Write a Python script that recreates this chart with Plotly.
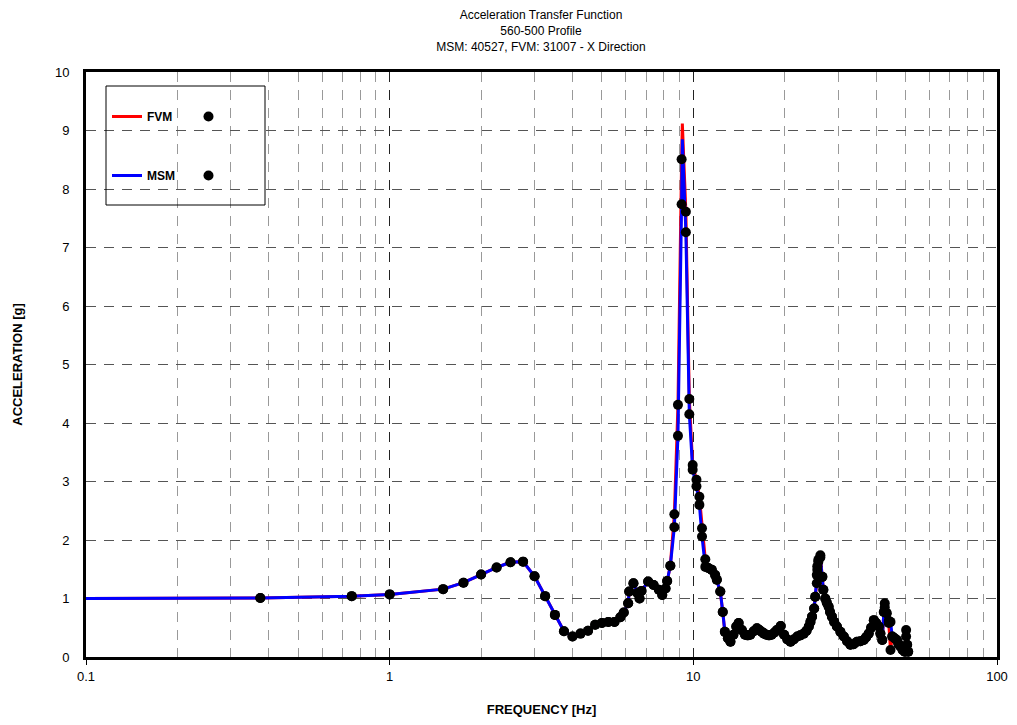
import plotly.graph_objects as go

# ---- data ----
freq = [0.1, 0.375, 0.75, 1.0, 1.5, 1.75, 2.0, 2.25, 2.5, 2.75, 3.0, 3.25, 3.5, 3.75, 4.0,
        4.25, 4.5, 4.75, 5.0, 5.25, 5.5, 5.75, 5.9, 6.1, 6.15, 6.35, 6.55, 6.65, 6.75, 7.1,
        7.4, 7.7, 7.9, 8.1, 8.2, 8.4, 8.66, 8.9, 9.15, 9.2, 9.45, 9.7, 9.95, 10.24, 10.47,
        10.68, 10.95, 11.2, 11.5, 11.8, 11.95, 12.27, 12.5, 12.7, 13.0, 13.25, 13.55, 13.85,
        14.1, 14.45, 14.8, 15.1, 15.4, 15.8, 16.2, 16.5, 16.8, 17.1, 17.4, 17.75, 18.1, 18.5,
        18.85, 19.4, 19.9, 20.4, 20.9, 21.4, 22.0, 22.5, 23.1, 23.6, 24.0, 24.3, 24.6, 25.0,
        25.2, 25.5, 25.6, 25.8, 26.2, 26.6, 26.8, 27.2, 27.5, 27.9, 28.2, 28.6, 29.1, 29.7,
        30.5, 31.3, 32.1, 32.9, 33.7, 34.6, 35.5, 36.4, 37.1, 37.8, 38.5, 39.3, 40.0, 40.8,
        41.3, 41.9, 42.4, 42.7, 43.3, 44.0, 44.6, 45.2, 46.0, 46.8, 47.4, 48.1, 48.9, 49.7,
        50.2, 50.6, 51.0]

fvm = [1.00, 1.01, 1.04, 1.07, 1.16, 1.27, 1.41, 1.53, 1.62, 1.63, 1.38, 1.04, 0.72, 0.44, 0.35,
       0.40, 0.45, 0.55, 0.58, 0.60, 0.60, 0.68, 0.76, 0.92, 1.12, 1.26, 1.09, 1.00, 1.13, 1.29,
       1.23, 1.15, 1.06, 1.17, 1.30, 1.56, 2.44, 4.31, 8.51, 9.12, 7.61, 4.41, 3.28, 3.03, 2.74,
       2.20, 1.67, 1.52, 1.49, 1.40, 1.32, 1.12, 0.77, 0.43, 0.32, 0.26, 0.38, 0.52,
       0.58, 0.46, 0.38, 0.37, 0.38, 0.44, 0.49, 0.46, 0.43, 0.40, 0.38, 0.37, 0.38, 0.42,
       0.46, 0.53, 0.38, 0.30, 0.26, 0.30, 0.35, 0.37, 0.40, 0.45, 0.52, 0.60, 0.69, 0.83,
       1.03, 1.26, 1.49, 1.63, 1.74, 1.37, 1.15, 1.00, 0.93, 0.86, 0.77, 0.69, 0.60, 0.52,
       0.43, 0.35, 0.27, 0.21, 0.22, 0.26, 0.27, 0.29, 0.34, 0.40, 0.50, 0.63, 0.58, 0.52,
       0.40, 0.29, 0.77, 0.92, 0.75, 0.58, 0.12, 0.35, 0.32, 0.29, 0.22, 0.18, 0.12, 0.09,
       0.46, 0.21, 0.09]

msm = [1.00, 1.01, 1.04, 1.07, 1.16, 1.27, 1.41, 1.53, 1.62, 1.63, 1.38, 1.04, 0.72, 0.44, 0.35,
       0.40, 0.45, 0.55, 0.58, 0.60, 0.60, 0.68, 0.76, 0.92, 1.12, 1.26, 1.09, 1.00, 1.13, 1.29,
       1.23, 1.15, 1.06, 1.17, 1.30, 1.56, 2.22, 3.78, 7.74, 8.85, 7.26, 4.15, 3.20, 2.92, 2.60,
       2.06, 1.54, 1.52, 1.49, 1.40, 1.32, 1.12, 0.77, 0.43, 0.32, 0.26, 0.38, 0.52,
       0.58, 0.46, 0.38, 0.37, 0.38, 0.44, 0.49, 0.46, 0.43, 0.40, 0.38, 0.37, 0.38, 0.42,
       0.46, 0.53, 0.38, 0.30, 0.26, 0.30, 0.35, 0.37, 0.40, 0.45, 0.52, 0.60, 0.69, 0.83,
       1.03, 1.40, 1.55, 1.66, 1.70, 1.37, 1.15, 1.00, 0.93, 0.86, 0.77, 0.69, 0.60, 0.52,
       0.43, 0.35, 0.27, 0.21, 0.22, 0.26, 0.27, 0.29, 0.34, 0.40, 0.50, 0.63, 0.58, 0.52,
       0.40, 0.29, 0.77, 0.85, 0.75, 0.62, 0.60, 0.35, 0.32, 0.29, 0.22, 0.18, 0.12, 0.09,
       0.35, 0.21, 0.09]

# points drawn as lines only (axis start and the resonance apex)
no_dot = [0.1, 9.2]

x_ticks = [0.1, 1, 10, 100]
x_labels = ["0.1", "1", "10", "100"]

title_lines = ["Acceleration Transfer Function", "560-500 Profile",
               "MSM: 40527, FVM: 31007 - X Direction"]

FONT = "Liberation Sans, Arial, sans-serif"

dot_idx = [i for i, f in enumerate(freq) if f not in no_dot]

fig = go.Figure()
fig.add_trace(go.Scatter(x=freq, y=fvm, mode="lines", name="FVM",
                         line=dict(color="#ff0000", width=3),
                         legend="legend", legendgroup="f"))
fig.add_trace(go.Scatter(x=freq, y=msm, mode="lines", name="MSM",
                         line=dict(color="#0000ff", width=3),
                         legend="legend", legendgroup="m"))
fig.add_trace(go.Scatter(x=[freq[i] for i in dot_idx], y=[fvm[i] for i in dot_idx],
                         mode="markers", name=" ",
                         marker=dict(color="black", size=10),
                         legend="legend2", legendgroup="f"))
fig.add_trace(go.Scatter(x=[freq[i] for i in dot_idx], y=[msm[i] for i in dot_idx],
                         mode="markers", name=" ",
                         marker=dict(color="black", size=10),
                         legend="legend2", legendgroup="m"))

# the page adds an 8px body margin, so the figure origin sits at (8, 8)
OFF = 8
W, H = 1017 - 2 * OFF, 725 - 2 * OFF
L, T = 86 - OFF, 72 - OFF
PW, PH = 911, 585


def px_x(page_x):
    return (page_x - OFF - L) / PW


def px_y(page_y):
    return 1 - (page_y - OFF - T) / PH


fig.update_layout(
    width=W, height=H,
    margin=dict(l=L, r=W - L - PW, t=T, b=H - T - PH, autoexpand=False),
    paper_bgcolor="white", plot_bgcolor="white",
    font=dict(family=FONT, color="black", size=13),
    title=dict(text="<br>".join(title_lines), x=(541 - OFF) / W, xanchor="center",
               y=0.984, yanchor="top", yref="container",
               font=dict(size=12, family=FONT, color="black")),
    legend=dict(x=px_x(107), y=px_y(102), xanchor="left", yanchor="top",
                bgcolor="rgba(0,0,0,0)", borderwidth=0, tracegroupgap=40,
                font=dict(size=12, family=FONT, weight="bold")),
    legend2=dict(x=px_x(188.5), y=px_y(102), xanchor="left", yanchor="top",
                 bgcolor="rgba(0,0,0,0)", borderwidth=0, tracegroupgap=40,
                 font=dict(size=12, family=FONT, weight="bold")),
    shapes=[dict(type="rect", xref="paper", yref="paper",
                 x0=px_x(106), x1=px_x(265), y0=px_y(205), y1=px_y(86),
                 line=dict(color="black", width=1), fillcolor="rgba(0,0,0,0)",
                 layer="above")],
)

fig.update_xaxes(
    type="log", range=[-1, 2], tickvals=x_ticks, ticktext=x_labels,
    automargin=False,
    showline=True, linewidth=3, linecolor="black", mirror=True,
    ticks="outside", ticklen=5, tickwidth=1, tickcolor="black",
    showgrid=True, gridcolor="#222222", gridwidth=1, griddash="10px,8px",
    minor=dict(dtick="D1", showgrid=True, gridcolor="#999999", gridwidth=1,
               griddash="10px,8px", ticks=""),
    zeroline=False,
    title=dict(text="<b>FREQUENCY [Hz]</b>", font=dict(size=13, family=FONT), standoff=24),
    tickfont=dict(size=13, family=FONT),
)
fig.update_yaxes(
    range=[0, 10], dtick=1,
    automargin=False,
    showline=True, linewidth=3, linecolor="black", mirror=True,
    ticks="", ticklabelstandoff=11,
    showgrid=True, gridcolor="#555555", gridwidth=1, griddash="10px,8px",
    zeroline=False,
    title=dict(text="<b>ACCELERATION [g]</b>", font=dict(size=13, family=FONT), standoff=30),
    tickfont=dict(size=13, family=FONT),
)

fig.write_html("out.html")
